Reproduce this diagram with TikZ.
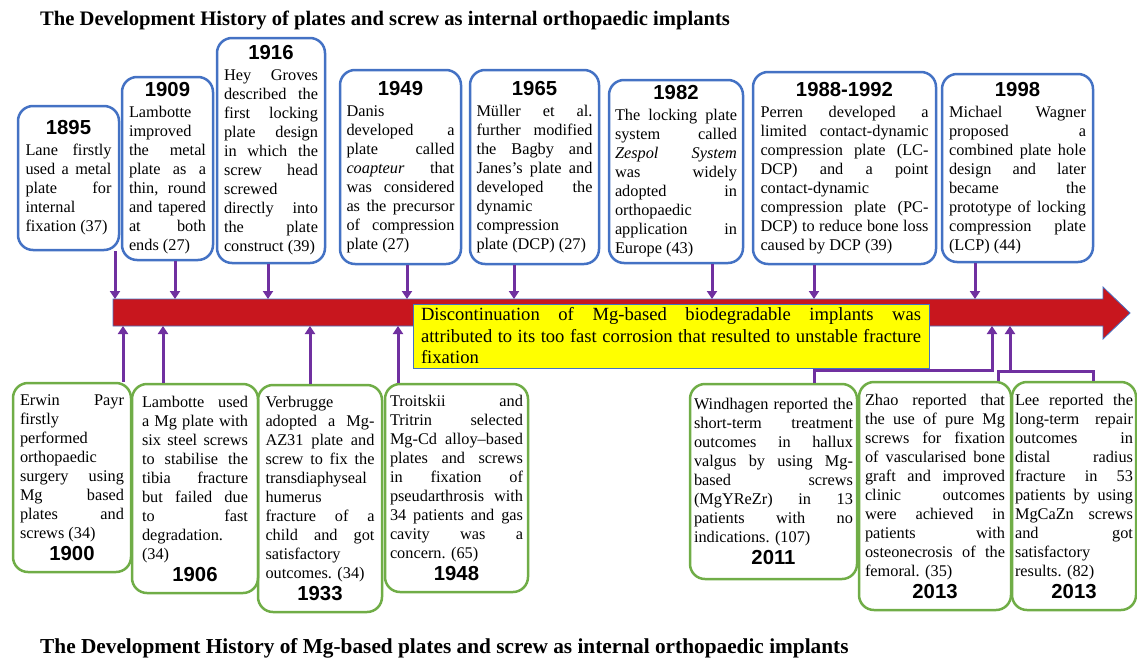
\documentclass[tikz,border=0pt]{standalone}
\usepackage{fontspec}
\setmainfont{Liberation Serif}
\newfontfamily\yearfamily{Liberation Sans}
\usetikzlibrary{arrows.meta}
\definecolor{boxblue}{RGB}{68,114,196}
\definecolor{boxgreen}{RGB}{112,173,71}
\definecolor{arrpurple}{RGB}{112,48,160}
\definecolor{barred}{RGB}{200,22,30}
\definecolor{noteyellow}{RGB}{255,255,0}
\newcommand{\nl}{\linebreak}
\newcommand{\yearfont}{\yearfamily\bfseries\fontsize{20.3}{22}\selectfont}
\newcommand{\bodyfont}{\fontsize{16.3}{19}\selectfont\tolerance=10000\relax\hbadness=10000\relax\hyphenpenalty=10000\relax\exhyphenpenalty=10000\relax}
\newcommand{\notefont}{\fontsize{18.6}{21.5}\selectfont\tolerance=10000\relax\hbadness=10000\relax\hyphenpenalty=10000\relax}
\newcommand{\yrtop}[1]{\centerline{\yearfont #1}\vskip2pt}
\newcommand{\yrbot}[1]{\par\vskip3pt\centerline{\yearfont #1}}
\tikzset{
  topbox/.style={draw=boxblue, line width=2.5pt, rounded corners=15pt, align=justify, inner xsep=3pt, inner ysep=2pt, font=\bodyfont},
  botbox/.style={draw=boxgreen, line width=2.5pt, rounded corners=15pt, align=justify, inner xsep=3pt, inner ysep=2pt, font=\bodyfont},
  notebox/.style={draw=boxblue, fill=noteyellow, line width=1pt, align=justify, inner xsep=3pt, inner ysep=1pt, font=\notefont},
  title/.style={anchor=west, inner sep=0pt, font=\bfseries\fontsize{20.6}{24}\selectfont},
  uparr/.style={draw=arrpurple, line width=3pt, -{Triangle[width=10pt,length=8pt]}},
  conn/.style={draw=arrpurple, line width=3pt},
}
\begin{document}
\begin{tikzpicture}[x=1pt,y=-1pt]
    \useasboundingbox (0,0) rectangle (1137,659);
    \node[title] (head) at (40,20) {The Development History of plates and screw as internal orthopaedic implants};
    \node[title, font=\bfseries\fontsize{21.3}{24}\selectfont] (foot) at (40,648) {The Development History of Mg-based plates and screw as internal orthopaedic implants};
    \fill[barred, draw=boxblue, line width=0.8pt] (113,299) -- (1103,299) -- (1103,287) -- (1130,313) -- (1103,339) -- (1103,326) -- (113,326) -- cycle;
    \coordinate (bartop) at (0,299);
    \coordinate (barbot) at (0,326);
    \node[notebox, text width=500pt, minimum width=516pt, minimum height=64pt] (note) at (671,336) {Discontinuation of Mg-based biodegradable implants was\nl attributed to its too fast corrosion that resulted to unstable fracture\nl fixation};
    \node[topbox, text width=86pt, minimum width=101pt, minimum height=144pt] (t1895) at (68.5,178) {\yrtop{1895}Lane firstly\nl used a metal\nl plate for\nl internal\nl fixation (37)};
    \node[topbox, text width=77pt, minimum width=91pt, minimum height=183pt] (t1909) at (167.5,168.5) {\yrtop{1909}Lambotte\nl improved\nl the metal\nl plate as a\nl thin, round\nl and tapered\nl at both\nl ends (27)};
    \node[topbox, text width=94pt, minimum width=108pt, minimum height=225pt] (t1916) at (271,150.5) {\yrtop{1916}Hey Groves\nl described the\nl first locking\nl plate design\nl in which the\nl screw head\nl screwed\nl directly into\nl the plate\nl construct (39)};
    \node[topbox, text width=108pt, minimum width=121pt, minimum height=194pt] (t1949) at (400.5,167) {\yrtop{1949}Danis\nl developed a\nl plate called\nl \emph{coapteur} that\nl was considered\nl as the precursor\nl of compression\nl plate (27)};
    \node[topbox, text width=116pt, minimum width=129pt, minimum height=194pt] (t1965) at (534.5,167) {\yrtop{1965}Müller et al.\nl further modified\nl the Bagby and\nl Janes’s plate and\nl developed the\nl dynamic\nl compression\nl plate (DCP) (27)};
    \node[topbox, text width=122pt, minimum width=134pt, minimum height=183pt] (t1982) at (676,171.5) {\yrtop{1982}The locking plate\nl system called\nl \emph{Zespol System}\nl was widely\nl adopted in\nl orthopaedic\nl application in\nl Europe (43)};
    \node[topbox, text width=168pt, minimum width=183pt, minimum height=192pt] (t1988) at (844.5,168) {\yrtop{1988-1992}Perren developed a\nl limited contact-dynamic\nl compression plate (LC-\nl DCP) and a point\nl contact-dynamic\nl compression plate (PC-\nl DCP) to reduce bone loss\nl caused by DCP (39)};
    \node[topbox, text width=137pt, minimum width=151pt, minimum height=188pt] (t1998) at (1017.5,168) {\yrtop{1998}Michael Wagner\nl proposed a\nl combined plate hole\nl design and later\nl became the\nl prototype of locking\nl compression plate\nl (LCP) (44)};
    \node[botbox, text width=104pt, minimum width=118pt, minimum height=189pt] (b1900) at (72,477.5) {Erwin Payr\nl firstly\nl performed\nl orthopaedic\nl surgery using\nl Mg based\nl plates and\nl screws (34)\yrbot{1900}};
    \node[botbox, text width=106pt, minimum width=126pt, minimum height=209pt] (b1906) at (195,488.5) {Lambotte used\nl a Mg plate with\nl six steel screws\nl to stabilise the\nl tibia fracture\nl but failed due\nl to fast\nl degradation.\nl (34)\yrbot{1906}};
    \node[botbox, text width=109pt, minimum width=124pt, minimum height=227pt] (b1933) at (320,498.5) {Verbrugge\nl adopted a Mg-\nl AZ31 plate and\nl screw to fix the\nl transdiaphyseal\nl humerus\nl fracture of a\nl child and got\nl satisfactory\nl outcomes. (34)\yrbot{1933}};
    \node[botbox, text width=133pt, minimum width=143pt, minimum height=208pt] (b1948) at (456.5,488) {Troitskii and\nl Tritrin selected\nl Mg-Cd alloy–based\nl plates and screws\nl in fixation of\nl pseudarthrosis with\nl 34 patients and gas\nl cavity was a\nl concern. (65)\yrbot{1948}};
    \node[botbox, text width=159pt, minimum width=167pt, minimum height=195pt] (b2011) at (773.5,481.5) {Windhagen reported the\nl short-term treatment\nl outcomes in hallux\nl valgus by using Mg-\nl based screws\nl (MgYReZr) in 13\nl patients with no\nl indications. (107)\yrbot{2011}};
    \node[botbox, text width=140pt, minimum width=152pt, minimum height=228pt] (bzhao) at (935,496) {Zhao reported that\nl the use of pure Mg\nl screws for fixation\nl of vascularised bone\nl graft and improved\nl clinic outcomes\nl were achieved in\nl patients with\nl osteonecrosis of the\nl femoral. (35)\yrbot{2013}};
    \node[botbox, text width=118pt, minimum width=124pt, minimum height=228pt] (blee) at (1074,496) {Lee reported the\nl long-term repair\nl outcomes in\nl distal radius\nl fracture in 53\nl patients by using\nl MgCaZn screws\nl and got\nl satisfactory\nl results. (82)\yrbot{2013}};
    \draw[uparr] (t1895.south -| 115,0) -- (bartop -| 115,0);
    \draw[uparr] (t1909.south -| 175,0) -- (bartop -| 175,0);
    \draw[uparr] (t1916.south -| 268,0) -- (bartop -| 268,0);
    \draw[uparr] (t1949.south -| 407,0) -- (bartop -| 407,0);
    \draw[uparr] (t1965.south -| 514,0) -- (bartop -| 514,0);
    \draw[uparr] (t1982.south -| 712,0) -- (bartop -| 712,0);
    \draw[uparr] (t1988.south -| 814,0) -- (bartop -| 814,0);
    \draw[uparr] (t1998.south -| 975,0) -- (bartop -| 975,0);
    \draw[uparr] (b1900.north -| 123,0) -- (barbot -| 123,0);
    \draw[uparr] (b1906.north -| 163,0) -- (barbot -| 163,0);
    \draw[uparr] (b1933.north -| 310,0) -- (barbot -| 310,0);
    \draw[uparr] (b1948.north -| 398,0) -- (barbot -| 398,0);
    \draw[uparr] (b2011.north -| 814,0) -- ++(0,-12) -| (barbot -| 992,0);
    \draw[conn] (bzhao.north -| 998,0) -- ++(0,-9) -| (blee.north -| 1093,0);
    \coordinate (jlee) at (1010,373);
    \draw[uparr] (jlee) -- (barbot -| 1010,0);
\end{tikzpicture}
\end{document}
